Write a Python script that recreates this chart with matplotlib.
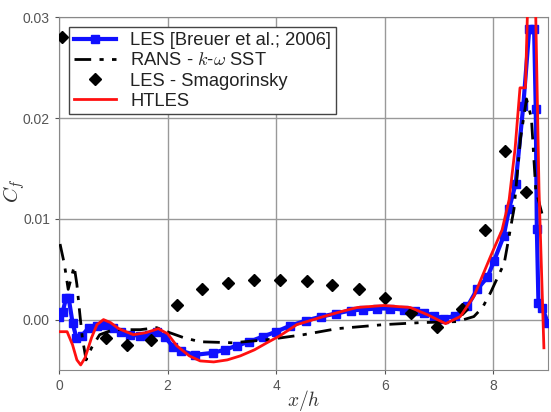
import matplotlib
matplotlib.use("Agg")
import matplotlib.pyplot as plt

plt.rcParams['font.family'] = ['Liberation Sans', 'DejaVu Sans']
plt.rcParams['mathtext.fontset'] = 'cm'

# LES [Breuer et al.; 2006]
les_x = [0.0, 0.07, 0.13, 0.18, 0.25, 0.32, 0.42, 0.55, 0.7, 0.85, 1.0, 1.15, 1.3, 1.5,
         1.65, 1.8, 1.95, 2.1, 2.25, 2.5, 2.83, 3.05, 3.27, 3.5, 3.75, 4.0, 4.26, 4.55,
         4.83, 5.1, 5.37, 5.6, 5.85, 6.1, 6.35, 6.55, 6.72, 6.9, 7.09, 7.3, 7.52, 7.7,
         7.89, 8.01, 8.19, 8.29, 8.41, 8.55, 8.66, 8.75, 8.78, 8.8, 8.83, 8.9, 9.0]
les_y = [0.0003, 0.0008, 0.0021, 0.0021, -0.0003, -0.0018, -0.0016, -0.0008, -0.0006,
         -0.0005, -0.0008, -0.0012, -0.0015, -0.0016, -0.0015, -0.0012, -0.0017, -0.0027,
         -0.0031, -0.0035, -0.0033, -0.0030, -0.0026, -0.0022, -0.0017, -0.0012, -0.0006,
         -0.0001, 0.0003, 0.0006, 0.0009, 0.0010, 0.0011, 0.0011, 0.0010, 0.0009, 0.0007,
         0.0004, 0.0001, 0.0004, 0.0013, 0.0030, 0.0042, 0.0058, 0.0083, 0.0110, 0.0135,
         0.0212, 0.0288, 0.0288, 0.0209, 0.0090, 0.0016, 0.0012, -0.0003]

# RANS k-omega SST
rans_x = [0.02, 0.1, 0.17, 0.22, 0.28, 0.33, 0.38, 0.43, 0.5, 0.6, 0.75, 1.0, 1.25, 1.5,
          1.8, 2.04, 2.3, 2.6, 3.2, 3.83, 4.5, 5.12, 5.98, 6.66, 7.33, 7.64, 7.8, 7.95,
          8.2, 8.38, 8.5, 8.61, 8.7, 8.78, 8.9, 8.95]
rans_y = [0.0075, 0.0055, 0.0030, 0.0040, 0.0053, 0.0035, 0.0008, -0.0018, -0.0040,
          -0.0028, -0.0015, -0.0010, -0.0010, -0.0010, -0.0008, -0.0013, -0.0018, -0.0022,
          -0.0023, -0.0020, -0.0015, -0.0009, -0.0005, -0.0003, -0.0002, 0.0003, 0.0012,
          0.0027, 0.0056, 0.0110, 0.0180, 0.0219, 0.0200, 0.0129, 0.0104, 0.0100]

# LES - Smagorinsky
smag_x = [0.05, 0.86, 1.25, 1.69, 2.17, 2.63, 3.11, 3.6, 4.07, 4.57, 5.03, 5.52, 6.0,
          6.49, 6.97, 7.43, 7.84, 8.21, 8.6]
smag_y = [0.028, -0.0018, -0.0025, -0.0020, 0.0014, 0.0030, 0.0036, 0.0039, 0.0039,
          0.0038, 0.0034, 0.0030, 0.0021, 0.0007, -0.0007, 0.0011, 0.0089, 0.0167, 0.0127]

# HTLES
htles_x = [0.0, 0.15, 0.25, 0.33, 0.4, 0.48, 0.6, 0.7, 0.82, 0.95, 1.1, 1.37, 1.6, 1.83,
           2.0, 2.17, 2.4, 2.6, 2.85, 3.1, 3.34, 3.6, 3.83, 4.07, 4.38, 4.87, 5.2, 5.49,
           5.98, 6.47, 6.78, 7.12, 7.39, 7.64, 7.95, 8.16, 8.29, 8.4, 8.49, 8.59, 8.64,
           8.7, 8.77, 8.84, 8.93]
htles_y = [-0.0012, -0.0012, -0.0025, -0.0040, -0.0045, -0.0038, -0.0018, -0.0005, 0.0000,
           -0.0003, -0.0009, -0.0015, -0.0013, -0.0009, -0.0014, -0.0026, -0.0036, -0.0041,
           -0.0042, -0.0040, -0.0036, -0.0030, -0.0023, -0.0016, -0.0005, 0.0003, 0.0008,
           0.0012, 0.0014, 0.0012, 0.0005, -0.0004, 0.0003, 0.0023, 0.0063, 0.0089, 0.0119,
           0.0170, 0.0230, 0.0230, 0.0330, 0.0340, 0.0330, 0.0129, -0.0028]

xticks = [0, 2, 4, 6, 8]
yticks = [0.00, 0.01, 0.02, 0.03]
ytick_labels = ['0.00', '0.01', '0.02', '0.03']

fig = plt.figure(figsize=(5.51, 4.12), dpi=100)
ax = fig.add_axes([0.107, 0.102, 0.887, 0.856])

ax.plot(les_x, les_y, color='#1010ff', lw=3, marker='s', markersize=5.5,
        label='LES [Breuer et al.; 2006]', zorder=3)
ax.plot(rans_x, rans_y, color='black', lw=2, dashes=[6, 3, 1.5, 3],
        label='RANS - $k$-$\\omega$ SST', zorder=4)
ax.plot(smag_x, smag_y, linestyle='none', marker='D', markersize=6.5, color='black',
        label='LES - Smagorinsky', zorder=5)
ax.plot(htles_x, htles_y, color='#ff1010', lw=2, label='HTLES', zorder=6)

ax.set_xlim(0, 9)
ax.set_ylim(-0.005, 0.03)
ax.set_xticks(xticks)
ax.set_yticks(yticks)
ax.set_yticklabels(ytick_labels)
ax.grid(True, color='#999999', lw=1)
ax.set_axisbelow(True)
for s in ax.spines.values():
    s.set_color('#888888')
ax.tick_params(colors='#555555', labelsize=10, length=3, direction='out')
ax.set_xlabel('$x/h$', fontsize=14, color='#333333', va='top')
ax.xaxis.set_label_coords(0.5, -0.052)
ax.set_ylabel('$C_f$', fontsize=15, color='#333333')
ax.yaxis.set_label_coords(-0.066, 0.51)

leg = ax.legend(loc='upper left', fontsize=13.2, fancybox=False, framealpha=1,
                edgecolor='#444444', handlelength=2.3, handletextpad=0.8,
                labelspacing=0.18, borderaxespad=0.55, borderpad=0.25)
leg.get_frame().set_linewidth(1)
for t in leg.get_texts():
    t.set_color('#222222')

fig.savefig('out.png', dpi=100)
